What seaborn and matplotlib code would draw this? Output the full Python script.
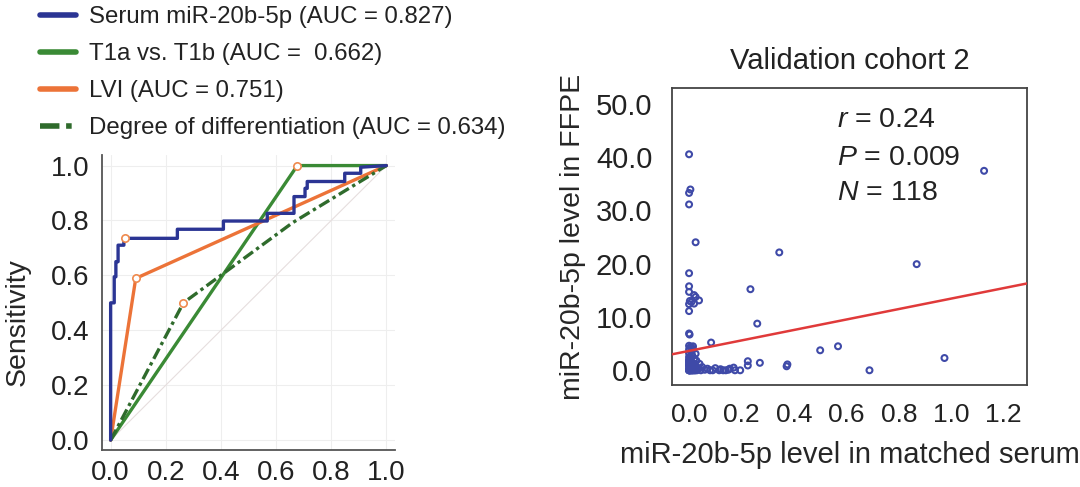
import pandas as pd
import seaborn as sns
import matplotlib.pyplot as plt
from matplotlib.ticker import MultipleLocator, FormatStrFormatter

# ROC curves (false positive rate / sensitivity)
serum_fpr = [0, 0, 0.013, 0.013, 0.019, 0.019, 0.027, 0.027, 0.048, 0.048, 0.242, 0.242,
             0.409, 0.409, 0.568, 0.568, 0.665, 0.665, 0.705, 0.705, 0.713, 0.713,
             0.849, 0.849, 0.907, 0.907, 1.0]
serum_tpr = [0, 0.5, 0.5, 0.595, 0.595, 0.65, 0.65, 0.71, 0.71, 0.735, 0.735, 0.768,
             0.768, 0.798, 0.798, 0.826, 0.826, 0.887, 0.887, 0.917, 0.917, 0.942,
             0.942, 0.972, 0.972, 0.994, 1.0]
t1_fpr = [0, 0.677, 1.0]
t1_tpr = [0, 1.0, 1.0]
lvi_fpr = [0, 0.091, 1.0]
lvi_tpr = [0, 0.589, 1.0]
diff_fpr = [0, 0.264, 0.66, 1.0]
diff_tpr = [0, 0.5, 0.792, 1.0]
cut_fpr = [0.051, 0.091, 0.677, 0.264]
cut_tpr = [0.735, 0.589, 1.0, 0.5]

roc_labels = ['Serum miR-20b-5p (AUC = 0.827)', 'T1a vs. T1b (AUC =  0.662)',
              'LVI (AUC = 0.751)', 'Degree of differentiation (AUC = 0.634)']

# validation cohort 2: serum vs FFPE levels
serum_x = [0.0, 0.005, 0.0, 0.0, 0.025, 0.344, 1.125, 0.868, 0.0, 0.0, 0.0, 0.234,
           0.019, 0.025, 0.038, 0.003, 0.009, 0.019, 0.0, 0.0, 0.26, 0.0, 0.002, 0.084,
           0.015, 0.01, 0.0, 0.025, 0.5, 0.568, 0.974, 0.688, 0.224, 0.224, 0.27, 0.375,
           0.372,
           0.0, 0.005, 0.01, 0.015, 0.02, 0.025, 0.03, 0.035, 0.04, 0.045, 0.05, 0.06,
           0.07, 0.08, 0.09, 0.1, 0.115, 0.12, 0.13, 0.14, 0.15, 0.155, 0.17, 0.175,
           0.195, 0.0, 0.0, 0.0, 0.0, 0.005, 0.01, 0.012, 0.008, 0.015, 0.02, 0.003,
           0.0, 0.018, 0.028, 0.033, 0.006, 0.0,
           0.0, 0.002, 0.004, 0.006, 0.008, 0.01, 0.012, 0.014, 0.016, 0.018, 0.02,
           0.022, 0.024, 0.026, 0.0, 0.003, 0.007, 0.011, 0.015, 0.019, 0.023, 0.0,
           0.001, 0.005, 0.009, 0.013, 0.017, 0.021, 0.0, 0.004, 0.008, 0.012, 0.016,
           0.0, 0.002, 0.006, 0.01, 0.014, 0.0]
ffpe_y = [40.5, 33.9, 33.25, 31.1, 24.0, 22.1, 37.4, 19.9, 18.2, 15.75, 14.7, 15.2,
          14.1, 13.75, 13.1, 13.0, 12.8, 12.5, 12.4, 11.1, 8.75, 6.9, 6.7, 5.2,
          4.5, 4.2, 3.9, 3.1, 3.75, 4.5, 2.3, 0.0, 1.7, 0.9, 1.4, 1.1,
          0.75,
          0.0, 0.2, 0.0, 0.5, 0.1, 0.8, 0.0, 0.3, 1.2, 0.0, 0.6, 0.1,
          0.3, 0.0, 0.0, 0.4, 0.0, 0.2, 0.0, 0.0, 0.1, 0.3, 0.5, 0.0,
          0.0, 1.0, 1.8, 2.5, 3.2, 2.0, 1.5, 2.8, 3.6, 3.9, 2.2, 0.6,
          0.4, 1.2, 1.8, 0.4, 4.4, 4.6,
          0.0, 0.1, 0.3, 0.0, 0.2, 0.5, 0.0, 0.1, 0.4, 0.0, 0.2,
          0.6, 0.0, 0.3, 0.8, 0.0, 0.2, 0.5, 0.9, 0.1, 0.0, 1.3,
          0.0, 0.4, 0.7, 0.0, 1.0, 0.2, 1.6, 0.0, 0.3, 0.6, 0.0,
          2.0, 0.1, 0.0, 0.4, 0.2, 0.0]

sns.set_theme(style='white')
plt.rcParams['font.family'] = ['Liberation Sans', 'DejaVu Sans']
plt.rcParams['mathtext.fontset'] = 'custom'
plt.rcParams['mathtext.it'] = 'Liberation Sans:italic'
plt.rcParams['mathtext.rm'] = 'Liberation Sans'
plt.rcParams['text.color'] = '#222222'

fig = plt.figure(figsize=(10.8, 4.87), dpi=100)

# ---- left: ROC curves ----
ax1 = fig.add_axes([0.0944, 0.076, 0.271, 0.606])
ax1.set_xlim(-0.0315, 1.03)
ax1.set_ylim(-0.036, 1.039)
ax1.plot([0, 1], [0, 1], color='#e6dede', lw=0.8, zorder=1)

sns.lineplot(x=serum_fpr, y=serum_tpr, sort=False, estimator=None, ax=ax1,
             color='#2b3594', lw=2.4, label=roc_labels[0], zorder=4)
sns.lineplot(x=t1_fpr, y=t1_tpr, sort=False, estimator=None, ax=ax1,
             color='#3a8a35', lw=2.4, label=roc_labels[1], zorder=3)
sns.lineplot(x=lvi_fpr, y=lvi_tpr, sort=False, estimator=None, ax=ax1,
             color='#ec7338', lw=2.4, label=roc_labels[2], zorder=3)
sns.lineplot(x=diff_fpr, y=diff_tpr, sort=False, estimator=None, ax=ax1,
             color='#2f6b2c', lw=2.4, linestyle=(0, (3.5, 1.2, 1.0, 1.2)),
             label=roc_labels[3], zorder=3)
sns.scatterplot(x=cut_fpr, y=cut_tpr, ax=ax1, marker='o', s=28, facecolor='white',
                edgecolor='#ef8a4e', linewidth=1.2, zorder=6)

ax1.xaxis.set_major_locator(MultipleLocator(0.2))
ax1.xaxis.set_minor_locator(MultipleLocator(0.05))
ax1.yaxis.set_major_locator(MultipleLocator(0.2))
ax1.yaxis.set_minor_locator(MultipleLocator(0.05))
ax1.xaxis.set_major_formatter(FormatStrFormatter('%.1f'))
ax1.yaxis.set_major_formatter(FormatStrFormatter('%.1f'))
ax1.grid(True, which='major', color='#eeeeee', lw=0.8)
for s in ['top', 'right']:
    ax1.spines[s].set_visible(False)
for s in ['left', 'bottom']:
    ax1.spines[s].set_color('#555555')
    ax1.spines[s].set_linewidth(1.3)
ax1.tick_params(axis='both', which='major', direction='in', length=6, width=1.2,
                color='#555555', labelsize=20, labelcolor='#222222')
ax1.tick_params(axis='both', which='minor', direction='in', length=3, width=1.0,
                color='#555555')
ax1.tick_params(axis='x', pad=7)
ax1.tick_params(axis='y', pad=9)
ax1.set_ylabel('Sensitivity', fontsize=20.5)
ax1.yaxis.set_label_coords(-0.245, 0.434)

handles, labels = ax1.get_legend_handles_labels()
ax1.get_legend().remove()
leg = fig.legend(handles, labels, loc='upper left', bbox_to_anchor=(0.037, 0.987),
                 frameon=False, fontsize=17.3, handlelength=1.5, handletextpad=0.55,
                 labelspacing=0.62, borderaxespad=0, borderpad=0)
for h in leg.get_lines():
    h.set_linewidth(4)

# ---- right: scatter with regression ----
ax2 = fig.add_axes([0.622, 0.209, 0.329, 0.610])
ax2.set_xlim(-0.066, 1.289)
ax2.set_ylim(-2.8, 52.9)
sns.scatterplot(x=serum_x, y=ffpe_y, ax=ax2, marker='o', s=18, facecolor='none',
                edgecolor='#3f4aa8', linewidth=1.5, zorder=3)
sns.regplot(x=serum_x, y=ffpe_y, ax=ax2, scatter=False, ci=None, truncate=False,
            line_kws={'color': '#e03a3a', 'lw': 1.8, 'zorder': 4})
ax2.set_xlim(-0.066, 1.289)
ax2.set_ylim(-2.8, 52.9)
ax2.xaxis.set_major_locator(MultipleLocator(0.2))
ax2.yaxis.set_major_locator(MultipleLocator(10))
ax2.xaxis.set_major_formatter(FormatStrFormatter('%.1f'))
ax2.yaxis.set_major_formatter(FormatStrFormatter('%.1f'))
for s in ax2.spines.values():
    s.set_color('#444444')
    s.set_linewidth(1.3)
ax2.tick_params(axis='both', direction='out', length=4, width=1.0, color='#666666',
                labelcolor='#222222')
ax2.tick_params(axis='x', labelsize=19, pad=9)
ax2.tick_params(axis='y', labelsize=21, pad=10)
ax2.set_title('Validation cohort 2', fontsize=21, pad=14)
ax2.set_xlabel('miR-20b-5p level in matched serum', fontsize=21, labelpad=10)
ax2.set_ylabel('miR-20b-5p level in FFPE', fontsize=20.5, labelpad=7)

ax2.text(0.465, 0.892, r'$\mathit{r}$ = 0.24', transform=ax2.transAxes,
         fontsize=20.5, va='center')
ax2.text(0.465, 0.764, r'$\mathit{P}$ = 0.009', transform=ax2.transAxes,
         fontsize=20.5, va='center')
ax2.text(0.465, 0.646, r'$\mathit{N}$ = 118', transform=ax2.transAxes,
         fontsize=20.5, va='center')

fig.savefig('out.png', dpi=100)
